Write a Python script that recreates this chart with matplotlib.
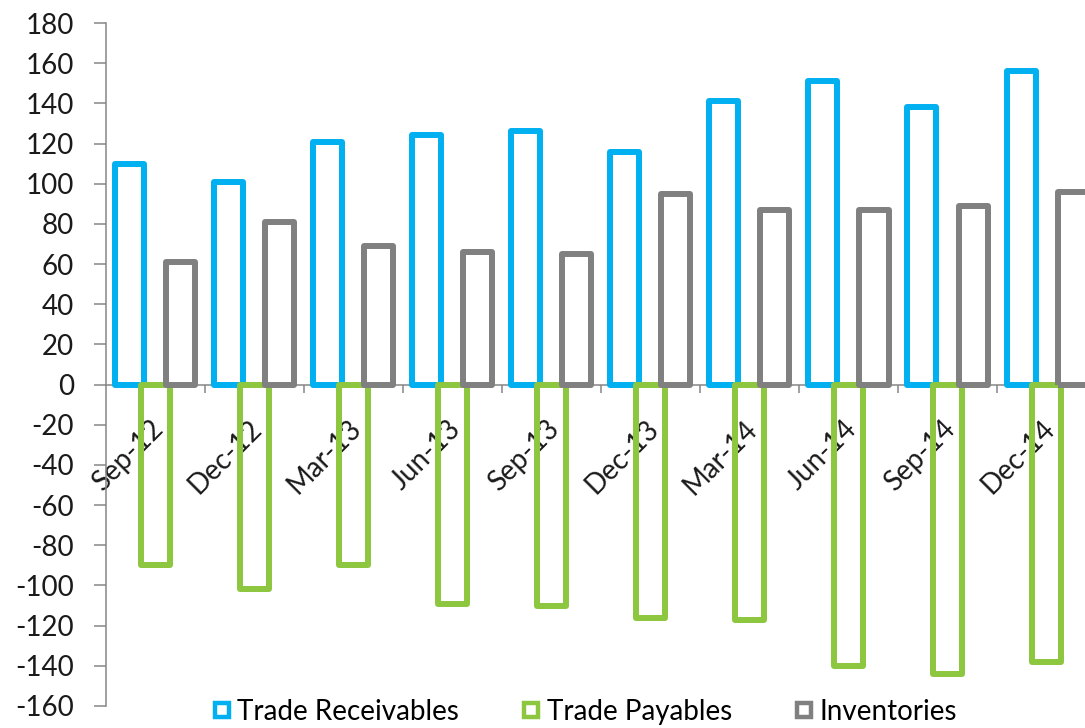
import numpy as np
import matplotlib
matplotlib.use('Agg')
import matplotlib.pyplot as plt
from matplotlib.lines import Line2D
from matplotlib.transforms import ScaledTranslation

plt.rcParams['font.family'] = ['Lato', 'DejaVu Sans']
plt.rcParams['axes.unicode_minus'] = False

# Quarter-end balances
quarters = ['Sep-12', 'Dec-12', 'Mar-13', 'Jun-13', 'Sep-13',
            'Dec-13', 'Mar-14', 'Jun-14', 'Sep-14', 'Dec-14']
receivables = [110, 101, 121, 124, 126, 116, 141, 151, 138, 156]
payables = [-90, -102, -90, -109, -110, -116, -117, -140, -144, -138]
inventories = [61, 81, 69, 66, 65, 95, 87, 87, 89, 96]

series = [
    ('Trade Receivables', receivables, '#00B0F0'),
    ('Trade Payables', payables, '#8DC63F'),
    ('Inventories', inventories, '#808080'),
]

fig = plt.figure(figsize=(10.85, 7.28), dpi=100)
ax = fig.add_axes([105.5 / 1085, 1 - 706 / 728, 990.6 / 1085, (706 - 23) / 728])

x = np.arange(len(quarters))
width = 0.293
offsets = [-0.258, 0.0, 0.258]
lw = 4.3

for (name, vals, col), off in zip(series, offsets):
    ax.bar(x + off, vals, width, facecolor='none', edgecolor=col,
           linewidth=lw, joinstyle='round', zorder=3)

ax.set_xlim(-0.5, len(quarters) - 0.5)
ax.set_ylim(-160, 180)
ax.set_yticks(np.arange(-160, 181, 20))

for side in ['top', 'right']:
    ax.spines[side].set_visible(False)
ax.spines['bottom'].set_position(('data', 0))
for side in ['left', 'bottom']:
    ax.spines[side].set_color('#868686')
    ax.spines[side].set_linewidth(1.1)

ax.tick_params(axis='y', direction='out', length=8.6, width=1.1,
               color='#868686', labelsize=20, pad=14, labelcolor='#1a1a1a')
ax.set_xticks(np.arange(0.5, len(quarters) - 0.5, 1))
ax.set_xticklabels([])
ax.tick_params(axis='x', direction='out', length=5.5, width=1.1,
               color='#868686')

# category labels hang below the zero line, slanted, under the bars
shift = ScaledTranslation(4 / 100, -40 / 100, fig.dpi_scale_trans)
for i, lab in enumerate(quarters):
    ax.text(i, 0, lab, rotation=45, ha='right', va='center',
            rotation_mode='anchor', fontsize=20, color='#1a1a1a',
            transform=ax.transData + shift, zorder=2)

handles = [Line2D([], [], linestyle='none', marker='s', markersize=10,
                  markerfacecolor='white', markeredgecolor=col,
                  markeredgewidth=3.2, label=name)
           for name, vals, col in series]
fig.legend(handles=handles, loc='center', ncol=3, frameon=False,
           bbox_to_anchor=(584 / 1085, 1 - 712 / 728), fontsize=20,
           handletextpad=0.15, columnspacing=2.2, handlelength=0.8,
           borderaxespad=0, borderpad=0)

fig.savefig('out.png', dpi=100)
